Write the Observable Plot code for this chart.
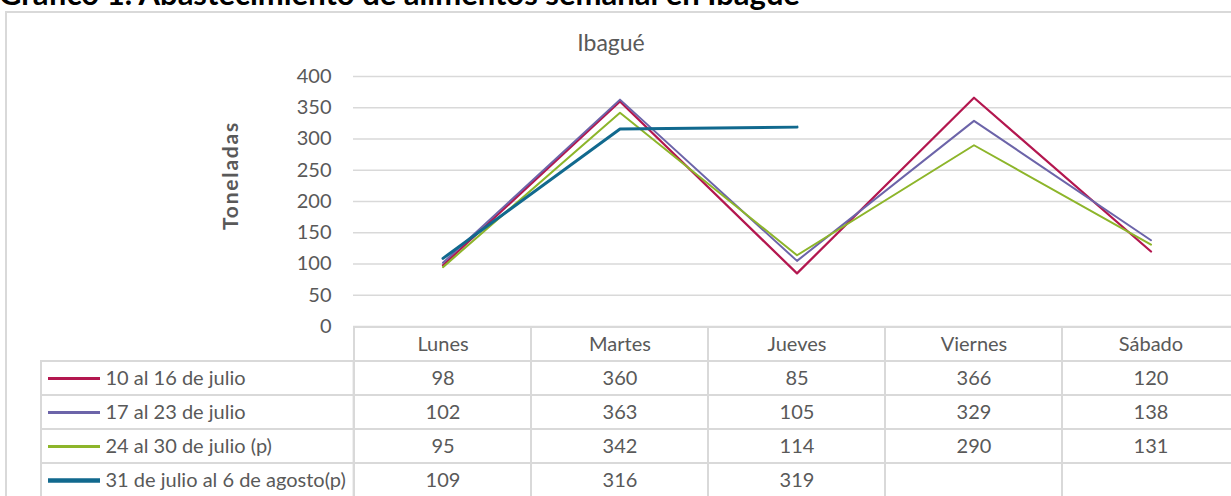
<!DOCTYPE html>
<html><head><meta charset="utf-8">
<script src="https://cdn.jsdelivr.net/npm/d3@7"></script>
<script src="https://cdn.jsdelivr.net/npm/@observablehq/plot@0.6"></script>
<style>
html,body{margin:0;padding:0;background:#fff;overflow:hidden;width:1231px;height:496px;}
#wrap{position:relative;width:1231px;height:496px;overflow:hidden;font-family:Lato,sans-serif;}
#pagetitle{position:absolute;left:-1px;top:-25px;font-weight:bold;font-size:31px;line-height:1.2;color:#000;white-space:nowrap;}
#frame{position:absolute;left:5px;top:11px;width:1300px;height:600px;border:2px solid #d9d9d9;box-sizing:border-box;}
#title{position:absolute;left:0;width:1222px;top:29px;text-align:center;font-size:23px;line-height:1.2;color:#595959;}
#chart,#table{position:absolute;left:0;}
#chart{top:0}
#table{top:326px}
</style></head><body><div id="wrap">
<div id="pagetitle"></div>
<div id="frame"></div>
<div id="title"></div>
<div id="chart"></div>
<div id="table"></div>
</div>
<script>
const pageTitle = "Gráfico 1. Abastecimiento de alimentos semanal en Ibagué";
const chartTitle = "Ibagué";
const yLabel = "Toneladas";
const days = ["Lunes", "Martes", "Jueves", "Viernes", "Sábado"];
const seriesNames = ["10 al 16 de julio", "17 al 23 de julio", "24 al 30 de julio (p)", "31 de julio al 6 de agosto(p)"];
const seriesColors = ["#b3174f", "#6c64a9", "#8db52a", "#11698e"];
const seriesWidths = [2.25, 2, 2, 3];
const legendWidths = [3, 3, 3, 4.5];
const s1 = [98, 360, 85, 366, 120];
const s2 = [102, 363, 105, 329, 138];
const s3 = [95, 342, 114, 290, 131];
const s4 = [109, 316, 319, null, null];
const yTicks = [0, 50, 100, 150, 200, 250, 300, 350, 400];

const values = [s1, s2, s3, s4];
const rows = [];
seriesNames.forEach((name, si) => days.forEach((day, di) => rows.push({series: name, day, value: values[si][di]})));

document.getElementById("pagetitle").textContent = pageTitle;
document.getElementById("title").textContent = chartTitle;

const grey = "#d9d9d9", txt = "#595959";
const W = 1240, left = 353;
const bw = (W - left) / days.length;

const chart = Plot.plot({
  width: W, height: 340,
  marginLeft: left, marginRight: 0, marginTop: 76, marginBottom: 14,
  style: {background: "transparent", maxWidth: "none", fontFamily: "Lato, sans-serif", overflow: "visible"},
  x: {type: "band", domain: days, padding: 0, axis: null},
  y: {domain: [0, 400], axis: null},
  color: {domain: seriesNames, range: seriesColors},
  marks: [
    Plot.ruleY(yTicks, {stroke: grey, strokeWidth: 1.5}),
    Plot.axisY(yTicks, {tickSize: 0, tickPadding: 22, fontSize: 20, fill: txt, label: null}),
    Plot.text([yLabel], {frameAnchor: "left", textAnchor: "middle", dx: -122, dy: -26, rotate: -90, fontSize: 21, fontWeight: "bold", fill: txt}),
    ...seriesNames.map((name, i) => Plot.lineY(rows.filter(r => r.series === name && r.value != null),
      {x: "day", y: "value", stroke: "series", strokeWidth: seriesWidths[i]}))
  ]
});
chart.querySelectorAll("text").forEach(t => { if (t.textContent === yLabel) t.setAttribute("letter-spacing", "1.8"); });
document.getElementById("chart").append(chart);

const HEADER = "header";
const rowH = 34.5;
const table = Plot.plot({
  width: W, height: rowH * 5,
  marginLeft: left, marginRight: 0, marginTop: 0, marginBottom: 0,
  style: {background: "transparent", maxWidth: "none", fontFamily: "Lato, sans-serif", overflow: "visible"},
  x: {type: "band", domain: days, padding: 0, axis: null},
  y: {type: "band", domain: [HEADER, ...seriesNames], padding: 0, axis: null},
  color: {domain: seriesNames, range: seriesColors},
  marks: [
    Plot.cell(days, {x: d => d, y: () => HEADER, fill: "white", stroke: grey, strokeWidth: 2}),
    Plot.cell(rows, {x: "day", y: "series", fill: "white", stroke: grey, strokeWidth: 2}),
    Plot.cell(seriesNames, {x: () => days[0], y: d => d, dx: -(left - 40), insetRight: bw - (left - 40), fill: "white", stroke: grey, strokeWidth: 2}),
    Plot.text(days, {x: d => d, y: () => HEADER, text: d => d, fontSize: 20, fill: txt}),
    Plot.text(rows.filter(r => r.value != null), {x: "day", y: "series", text: "value", fontSize: 20, fill: txt}),
    Plot.text(seriesNames, {y: d => d, frameAnchor: "left", dx: -(left - 105), textAnchor: "start", text: d => d, fontSize: 20, fill: txt}),
    ...seriesNames.map((name, i) => Plot.tickY([name], {y: d => d, stroke: d => d, strokeWidth: legendWidths[i], dx: -(left - 48), insetRight: (W - left) - 52}))
  ]
});
document.getElementById("table").append(table);
</script>
</body></html>
